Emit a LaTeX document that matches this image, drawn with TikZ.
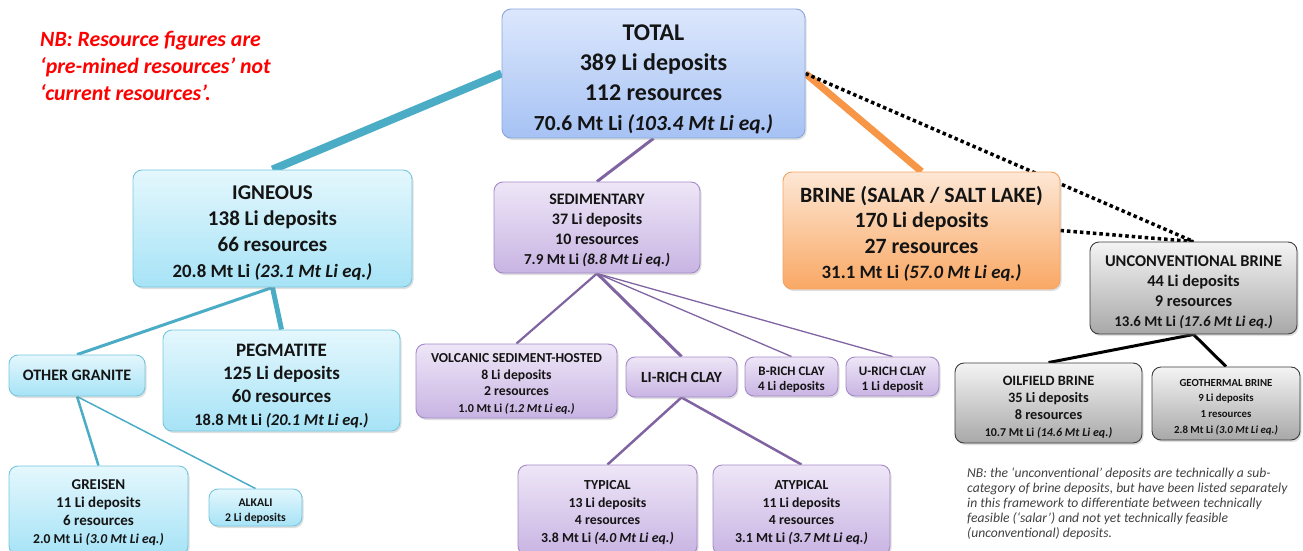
\documentclass[tikz,border=0pt]{standalone}
\usepackage{fontspec}
\setmainfont{Carlito}
\usetikzlibrary{shadows,backgrounds}
\definecolor{cteal}{HTML}{4BACC6}
\definecolor{cpurple}{HTML}{8064A2}
\definecolor{corange}{HTML}{F79646}
\definecolor{totA}{HTML}{DCE7FC}\definecolor{totB}{HTML}{A6C2F4}\definecolor{totD}{HTML}{8AA7DC}
\definecolor{igA}{HTML}{E4F7FD}\definecolor{igB}{HTML}{A6E3F6}\definecolor{igD}{HTML}{78C6DD}
\definecolor{seA}{HTML}{EEE6F7}\definecolor{seB}{HTML}{C8B4E3}\definecolor{seD}{HTML}{A38AC8}
\definecolor{brA}{HTML}{FDE7D5}\definecolor{brB}{HTML}{F9A864}\definecolor{brD}{HTML}{F4A462}
\definecolor{unA}{HTML}{F4F4F4}\definecolor{unB}{HTML}{A8A8A8}\definecolor{unD}{HTML}{3C3C3C}
\definecolor{nbgray}{HTML}{404040}
\newcommand\fsz[2]{\fontsize{#1}{#2}\selectfont}
\newcommand\st[1]{\rule{0pt}{#1pt}}
\tikzset{
  box/.style={draw, rounded corners=9pt, line width=0.9pt, inner sep=0pt, align=center,
    text=black!92, drop shadow={shadow xshift=1.5pt, shadow yshift=-2pt, opacity=0.25}},
  totbox/.style={box, top color=totA, bottom color=totB, draw=totD},
  igbox/.style={box, top color=igA, bottom color=igB, draw=igD},
  sebox/.style={box, top color=seA, bottom color=seB, draw=seD},
  brbox/.style={box, top color=brA, bottom color=brB, draw=brD},
  unbox/.style={box, top color=unA, bottom color=unB, draw=unD},
  dotline/.style={black, line width=3.5pt, dash pattern=on 3.5pt off 3pt},
}
\begin{document}
\begin{tikzpicture}[x=1pt,y=-1pt]
\clip (0,0) rectangle (1303,551);

% NB red
\node[anchor=north west, align=left, inner sep=0pt, text=red, font=\fsz{21.8}{27}\bfseries\itshape] (nb1) at (40,31)
  {NB: Resource figures are\\‘pre-mined resources’ not\\‘current resources’.};

% Top
\node[totbox, minimum width=303pt, minimum height=129pt, font=\fsz{24}{30}\bfseries] (total) at (653.5,73.5)
  {\st{28}TOTAL\\389 Li deposits\\112 resources\\{\fsz{21.5}{30}70.6 Mt Li \textit{(103.4 Mt Li eq.)}}};

% Level 2
\node[igbox, minimum width=279pt, minimum height=117pt, font=\fsz{21}{26}\bfseries] (igneous) at (272.5,228.5)
  {\st{22}IGNEOUS\\138 Li deposits\\66 resources\\{\fsz{18.8}{26}20.8 Mt Li \textit{(23.1 Mt Li eq.)}}};
\node[sebox, minimum width=206pt, minimum height=91pt, font=\fsz{16}{20}\bfseries] (sed) at (597,227.5)
  {\st{16.6}SEDIMENTARY\\37 Li deposits\\10 resources\\{\fsz{15.2}{20}7.9 Mt Li \textit{(8.8 Mt Li eq.)}}};
\node[brbox, minimum width=277pt, minimum height=117pt, font=\fsz{21.8}{25.5}\bfseries] (brine) at (921.5,230.5)
  {\st{23.4}BRINE (SALAR / SALT LAKE)\\170 Li deposits\\27 resources\\{\fsz{18.8}{25.5}31.1 Mt Li \textit{(57.0 Mt Li eq.)}}};
\node[unbox, minimum width=207pt, minimum height=92pt, font=\fsz{16.4}{20}\bfseries] (unconv) at (1193.5,288)
  {\st{18.8}UNCONVENTIONAL BRINE\\44 Li deposits\\9 resources\\{\fsz{14.9}{20}13.6 Mt Li \textit{(17.6 Mt Li eq.)}}};

% Igneous children
\node[igbox, minimum width=136pt, minimum height=41pt, font=\fsz{16}{20}\bfseries] (granite) at (77,375.5) {OTHER GRANITE};
\node[igbox, minimum width=237pt, minimum height=101pt, font=\fsz{19}{23}\bfseries] (pegmatite) at (281.5,380.5)
  {\st{23.5}PEGMATITE\\125 Li deposits\\60 resources\\{\fsz{16.4}{23}18.8 Mt Li \textit{(20.1 Mt Li eq.)}}};
\node[igbox, minimum width=179pt, minimum height=89pt, font=\fsz{15}{18}\bfseries] (greisen) at (98.5,510.5)
  {\st{13.9}GREISEN\\11 Li deposits\\6 resources\\{\fsz{13.6}{18}2.0 Mt Li \textit{(3.0 Mt Li eq.)}}};
\node[igbox, minimum width=93pt, minimum height=37pt, font=\fsz{11.8}{15}\bfseries] (alkali) at (255.5,507.5)
  {\st{15.8}ALKALI\\2 Li deposits};

% Sedimentary children
\node[sebox, minimum width=201pt, minimum height=74pt, font=\fsz{13.7}{16.7}\bfseries] (volcanic) at (516.5,381)
  {\st{15}VOLCANIC SEDIMENT-HOSTED\\8 Li deposits\\2 resources\\{\fsz{12.1}{16.7}1.0 Mt Li \textit{(1.2 Mt Li eq.)}}};
\node[sebox, minimum width=111pt, minimum height=40pt, font=\fsz{15.5}{19}\bfseries] (lirich) at (681.5,377) {LI-RICH CLAY};
\node[sebox, minimum width=93pt, minimum height=39pt, font=\fsz{13}{15}\bfseries] (brich) at (791.5,376.5)
  {\st{14.6}B-RICH CLAY\\4 Li deposits};
\node[sebox, minimum width=93pt, minimum height=39pt, font=\fsz{13}{15}\bfseries] (urich) at (892.5,376.5)
  {\st{14.6}U-RICH CLAY\\1 Li deposit};
\node[sebox, minimum width=179pt, minimum height=90pt, font=\fsz{13.8}{17.7}\bfseries] (typical) at (607.5,510)
  {\st{14.1}TYPICAL\\13 Li deposits\\4 resources\\{\fsz{13.8}{17.7}3.8 Mt Li \textit{(4.0 Mt Li eq.)}}};
\node[sebox, minimum width=177pt, minimum height=90pt, font=\fsz{13.8}{17.7}\bfseries] (atypical) at (801.5,510)
  {\st{14.1}ATYPICAL\\11 Li deposits\\4 resources\\{\fsz{13.8}{17.7}3.1 Mt Li \textit{(3.7 Mt Li eq.)}}};

% Unconventional children
\node[unbox, minimum width=187pt, minimum height=80pt, font=\fsz{14.3}{17}\bfseries] (oilfield) at (1048.5,403)
  {\st{17.4}OILFIELD BRINE\\35 Li deposits\\8 resources\\{\fsz{12}{17}10.7 Mt Li \textit{(14.6 Mt Li eq.)}}};
\node[unbox, minimum width=148pt, minimum height=73pt, font=\fsz{10.8}{15.7}\bfseries] (geothermal) at (1226,403.5)
  {\st{14.1}GEOTHERMAL BRINE\\9 Li deposits\\1 resources\\{\fsz{10.8}{15.7}2.8 Mt Li \textit{(3.0 Mt Li eq.)}}};

% NB bottom right
\node[anchor=north west, align=left, inner sep=0pt, text=nbgray, font=\fsz{13.6}{15}\itshape] (nb2) at (967,467.5)
  {NB: the ‘unconventional’ deposits are technically a sub-\\category of brine deposits, but have been listed separately\\in this framework to differentiate between technically\\feasible (‘salar’) and not yet technically feasible\\(unconventional) deposits.};

\begin{scope}[on background layer]
\draw[cteal, line width=8pt] (total.west) -- (igneous.north);
\draw[cpurple, line width=3pt] (total.south) -- (sed.north);
\draw[corange, line width=7pt] (total.east) -- (brine.north);
\draw[dotline] (total.east) -- (unconv.north);
\draw[dotline] (brine.east) -- (unconv.north);
\draw[cteal, line width=5pt] (igneous.south) -- (pegmatite.north);
\draw[cteal, line width=3pt] (igneous.south) -- (granite.north);
\draw[cteal, line width=2.5pt] (granite.south) -- (greisen.north);
\draw[cteal, line width=1.5pt] (granite.south) -- (alkali.north);
\draw[cpurple, line width=2.2pt] (sed.south) -- (volcanic.north);
\draw[cpurple, line width=3pt] (sed.south) -- (lirich.north);
\draw[cpurple, line width=1.3pt] (sed.south) -- (brich.north);
\draw[cpurple, line width=1.3pt] (sed.south) -- (urich.north);
\draw[cpurple, line width=2.5pt] (lirich.south) -- (typical.north);
\draw[cpurple, line width=2.5pt] (lirich.south) -- (atypical.north);
\draw[black, line width=3pt] (unconv.south) -- (oilfield.north);
\draw[black, line width=3pt] (unconv.south) -- (geothermal.north);
\end{scope}
\end{tikzpicture}
\end{document}
